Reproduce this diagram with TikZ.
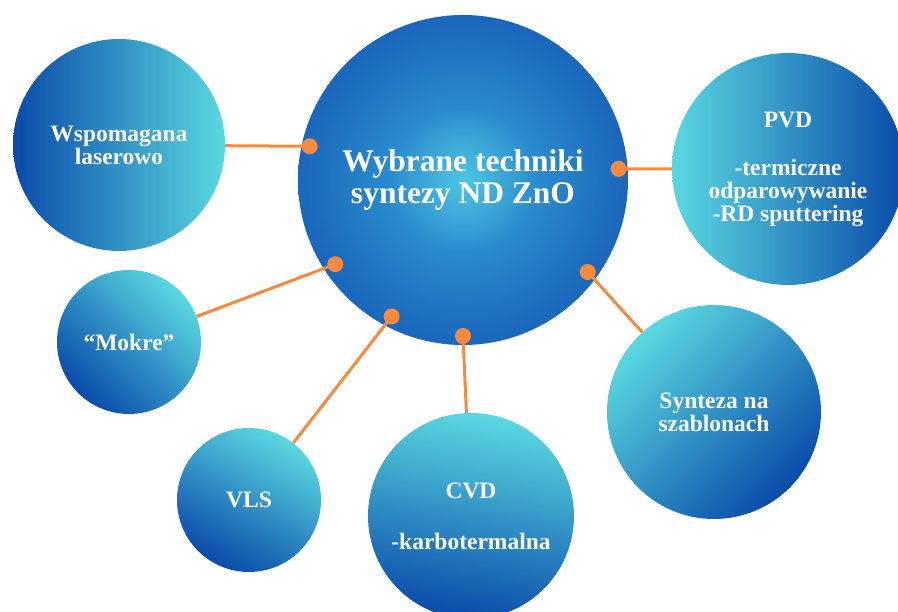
\documentclass[tikz,border=0pt]{standalone}
\usepackage{fontspec}
\setmainfont{Liberation Serif}
\definecolor{bdark}{RGB}{10,75,170}
\definecolor{blight}{RGB}{90,216,224}
\definecolor{cin}{RGB}{78,198,226}
\definecolor{cmid}{RGB}{42,140,205}
\definecolor{cout}{RGB}{26,102,188}
\definecolor{conncol}{RGB}{246,138,62}
\pgfdeclareradialshading{ctrshade}{\pgfpoint{0bp}{0bp}}{color(0bp)=(cin); color(11bp)=(cmid); color(25bp)=(cout); color(50bp)=(cout)}
\begin{document}
\begin{tikzpicture}[x=1pt,y=1pt,
  bub/.style={circle, inner sep=0pt, text=white, align=center, font=\bfseries\fontsize{23.5}{23}\selectfont, top color=blight, bottom color=bdark},
  connline/.style={draw=conncol, line width=3pt},
  dotnode/.style={circle, fill=conncol, inner sep=0pt, minimum size=16pt}]
\useasboundingbox (0,0) rectangle (898,612);
\clip (0,0) rectangle (898,612);
% central
\node[circle, inner sep=0pt, minimum size=330pt, shade, shading=ctrshade, text=white, align=center, font=\bfseries\fontsize{31.5}{32}\selectfont] (c) at (463,432) {Wybrane techniki\\syntezy ND ZnO};
% outer circles
\node[bub, minimum size=212pt, shading angle=-90] (w) at (119,467) {Wspomagana\\laserowo};
\node[bub, minimum size=232pt, shading angle=90] (pvd) at (788,443) {PVD\\[25pt]-termiczne\\odparowywanie\\-RD sputtering};
\node[bub, minimum size=144pt, shading angle=-45] (mok) at (129,270) {“Mokre”};
\node[bub, minimum size=144pt, shading angle=-30] (vls) at (249,112) {VLS};
\node[bub, minimum size=206pt, shading angle=-10] (cvd) at (471,96) {CVD\\[28pt]-karbotermalna};
\node[bub, minimum size=214pt, shading angle=45] (syn) at (714,200) {Synteza na\\szablonach};
% dots
\path (c.center) ++(167.6:157) coordinate (dw);
\path (c.center) ++(4.1:156) coordinate (dpvd);
\path (c.center) ++(213.4:153) coordinate (dmok);
\path (c.center) ++(242.4:154) coordinate (dvls);
\path (c.center) ++(270:156) coordinate (dcvd);
\path (c.center) ++(323.6:155) coordinate (dsyn);
% connectors
\draw[connline] (dw) -- (w);
\draw[connline] (dpvd) -- (pvd);
\draw[connline] (dmok) -- (mok);
\draw[connline] (dvls) -- (vls);
\draw[connline] (dcvd) -- (cvd);
\draw[connline] (dsyn) -- (syn);
\node[dotnode] (pw) at (dw) {};
\node[dotnode] (ppvd) at (dpvd) {};
\node[dotnode] (pmok) at (dmok) {};
\node[dotnode] (pvls) at (dvls) {};
\node[dotnode] (pcvd) at (dcvd) {};
\node[dotnode] (psyn) at (dsyn) {};
\end{tikzpicture}
\end{document}
